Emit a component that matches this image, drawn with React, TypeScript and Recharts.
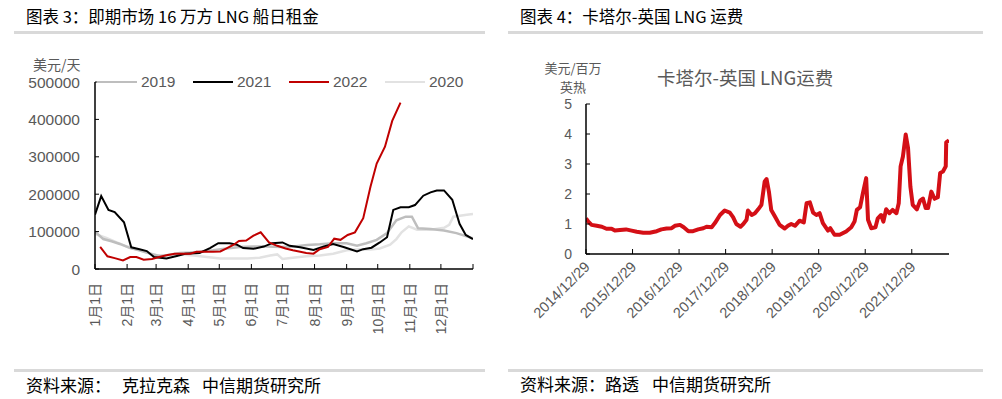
import React from "react";
import { Line, LineChart, XAxis, YAxis } from "recharts";

// 图表3：即期市场16万方LNG船日租金（美元/天），x为一年中的第几天
const days2019 = [0, 8, 16, 24, 34, 43, 53, 63, 72, 82, 92, 101, 114, 127, 140, 153, 166, 179, 192, 205, 217, 230, 243, 253, 262, 272, 282, 291, 300, 306, 312, 324, 337, 349, 365];
const rate2019 = [100000, 80000, 74000, 67000, 56000, 50000, 41000, 34000, 38000, 43000, 44000, 46000, 50000, 55000, 59000, 60000, 60000, 59000, 60000, 64000, 66000, 69000, 69000, 62000, 69000, 78000, 96000, 130000, 140000, 140000, 109000, 107000, 103000, 96000, 82000];

const days2020 = [0, 11, 21, 31, 40, 50, 60, 69, 82, 95, 108, 121, 134, 147, 159, 169, 176, 181, 191, 204, 217, 230, 243, 256, 266, 275, 285, 291, 296, 303, 311, 324, 337, 342, 346, 359, 365];
const rate2020 = [94000, 83000, 71000, 60000, 52000, 44000, 37000, 37000, 39000, 36000, 32000, 28000, 28000, 28000, 30000, 36000, 39000, 27000, 30000, 34000, 36000, 41000, 50000, 53000, 52000, 55000, 65000, 80000, 98000, 114000, 105000, 105000, 110000, 118000, 140000, 145000, 147000];

const days2021 = [0, 6, 13, 19, 28, 35, 43, 50, 57, 69, 79, 87, 101, 111, 119, 130, 137, 143, 153, 163, 171, 181, 188, 198, 211, 221, 230, 240, 253, 259, 267, 275, 282, 288, 295, 303, 309, 317, 324, 330, 337, 345, 352, 358, 365];
const rate2021 = [145000, 195000, 158000, 152000, 125000, 58000, 53000, 48000, 32000, 28000, 35000, 41000, 43000, 56000, 69000, 69000, 65000, 56000, 54000, 60000, 69000, 71000, 62000, 58000, 51000, 60000, 67000, 59000, 47000, 53000, 57000, 71000, 85000, 158000, 165000, 165000, 171000, 196000, 205000, 210000, 210000, 185000, 121000, 91000, 80000];

const days2022 = [5, 12, 19, 27, 34, 40, 47, 55, 62, 69, 77, 85, 92, 98, 106, 114, 121, 127, 134, 139, 146, 153, 160, 168, 176, 184, 191, 197, 204, 211, 217, 225, 231, 237, 244, 251, 259, 266, 272, 280, 287, 295];
const rate2022 = [59000, 34000, 29000, 23000, 32000, 32000, 25000, 27000, 32000, 37000, 41000, 41000, 41000, 46000, 46000, 46000, 47000, 55000, 65000, 75000, 76000, 89000, 98000, 71000, 62000, 55000, 50000, 47000, 43000, 41000, 53000, 59000, 81000, 78000, 91000, 98000, 136000, 220000, 282000, 327000, 396000, 445000];

const monthTicks = [0, 31, 59, 90, 120, 151, 181, 212, 243, 273, 304, 334, 365];
const monthLabels = ["1月1日", "2月1日", "3月1日", "4月1日", "5月1日", "6月1日", "7月1日", "8月1日", "9月1日", "10月1日", "11月1日", "12月1日", ""];
const rateTicks = [0, 100000, 200000, 300000, 400000, 500000];

// 图表4：卡塔尔-英国LNG运费（美元/百万英热），x为年份（小数）
const freightYears = [2014.99, 2015.04, 2015.11, 2015.22, 2015.33, 2015.43, 2015.54, 2015.61, 2015.72, 2015.85, 2015.97, 2016.08, 2016.22, 2016.36, 2016.51, 2016.61, 2016.72, 2016.83, 2016.9, 2017.01, 2017.09, 2017.19, 2017.29, 2017.4, 2017.51, 2017.58, 2017.69, 2017.76, 2017.87, 2017.97, 2018.08, 2018.15, 2018.22, 2018.31, 2018.37, 2018.44, 2018.47, 2018.55, 2018.62, 2018.69, 2018.76, 2018.83, 2018.87, 2018.92, 2018.97, 2019.05, 2019.15, 2019.26, 2019.33, 2019.4, 2019.48, 2019.58, 2019.67, 2019.73, 2019.8, 2019.87, 2019.94, 2020.01, 2020.08, 2020.19, 2020.24, 2020.33, 2020.44, 2020.58, 2020.69, 2020.76, 2020.81, 2020.88, 2020.94, 2021.01, 2021.05, 2021.12, 2021.21, 2021.26, 2021.33, 2021.38, 2021.44, 2021.51, 2021.58, 2021.66, 2021.71, 2021.75, 2021.8, 2021.86, 2021.91, 2021.96, 2022.01, 2022.1, 2022.17, 2022.23, 2022.29, 2022.34, 2022.41, 2022.48, 2022.55, 2022.6, 2022.66, 2022.72, 2022.73, 2022.79];
const freightValues = [1.19, 1.08, 0.97, 0.94, 0.91, 0.84, 0.84, 0.78, 0.8, 0.82, 0.78, 0.74, 0.71, 0.71, 0.76, 0.82, 0.85, 0.86, 0.94, 0.97, 0.89, 0.76, 0.76, 0.82, 0.86, 0.91, 0.89, 1.03, 1.3, 1.45, 1.38, 1.23, 1.0, 0.91, 1.0, 1.14, 1.45, 1.3, 1.36, 1.49, 1.64, 2.42, 2.5, 2.08, 1.47, 1.25, 0.97, 0.85, 0.94, 1.0, 0.94, 1.11, 1.05, 1.69, 1.72, 1.38, 1.3, 1.36, 1.03, 0.78, 0.86, 0.64, 0.64, 0.75, 0.89, 1.08, 1.47, 1.56, 2.03, 2.53, 1.14, 0.86, 0.89, 1.19, 1.3, 1.08, 1.49, 1.36, 1.47, 1.36, 1.69, 2.92, 3.25, 3.98, 3.53, 2.25, 1.64, 1.49, 1.78, 1.85, 1.53, 1.53, 2.08, 1.84, 1.89, 2.7, 2.75, 2.92, 3.72, 3.79];
const yearTicks = [2014.99, 2015.99, 2016.99, 2017.99, 2018.99, 2019.99, 2020.99, 2021.99];
const freightTicks = [0, 1, 2, 3, 4, 5];

const zip = (xs: number[], ys: number[]) => xs.map((x, i) => ({ x, y: ys[i] }));

const series = [
  { name: "2020", color: "#E2E2E2", width: 2.5, data: zip(days2020, rate2020) },
  { name: "2019", color: "#BEBEBE", width: 2.5, data: zip(days2019, rate2019) },
  { name: "2021", color: "#000000", width: 2, data: zip(days2021, rate2021) },
  { name: "2022", color: "#C00000", width: 2, data: zip(days2022, rate2022) },
];
const legendOrder = ["2019", "2021", "2022", "2020"];

const NUM_FONT = "'Liberation Sans', Arial, 'Noto Sans CJK SC', sans-serif";
const CJK_FONT = "'Noto Sans CJK SC', sans-serif";
const TEXT_GRAY = "#595959";

const LeftXTick = (props: any) => {
  const { x, y, payload, index } = props;
  const ay = y - 14;
  return (
    <g>
      <line x1={x} x2={x} y1={ay} y2={ay - 5} stroke="#000" strokeWidth={1} />
      <text
        transform={`translate(${x},${y}) rotate(-90)`}
        textAnchor="end"
        dy="0.36em"
        fontSize={14}
        fill={TEXT_GRAY}
        fontFamily={NUM_FONT}
      >
        {monthLabels[monthTicks.indexOf(payload.value)] ?? monthLabels[index]}
      </text>
    </g>
  );
};

const LeftYTick = (props: any) => {
  const { x, y, payload } = props;
  return (
    <g>
      <line x1={x + 15} x2={x + 19} y1={y} y2={y} stroke="#000" strokeWidth={1} />
      <text x={x} y={y} dy="0.36em" textAnchor="end" fontSize={15.5} fill={TEXT_GRAY} fontFamily={NUM_FONT}>
        {payload.value}
      </text>
    </g>
  );
};

const RightXTick = (props: any) => {
  const { x, y, payload } = props;
  const ay = y - 10;
  return (
    <g>
      <line x1={x} x2={x} y1={ay} y2={ay - 5} stroke="#000" strokeWidth={1} />
      <text
        transform={`translate(${x + 1},${y}) rotate(-45)`}
        textAnchor="end"
        dy="0.36em"
        fontSize={14.5}
        fill={TEXT_GRAY}
        fontFamily={NUM_FONT}
      >
        {`${Math.round(payload.value - 0.99)}/12/29`}
      </text>
    </g>
  );
};

const RightYTick = (props: any) => {
  const { x, y, payload } = props;
  return (
    <g>
      <line x1={x + 14} x2={x + 18} y1={y} y2={y} stroke="#000" strokeWidth={1} />
      <text x={x} y={y} dy="0.36em" textAnchor="end" fontSize={14} fill={TEXT_GRAY} fontFamily={NUM_FONT}>
        {payload.value}
      </text>
    </g>
  );
};

const abs = (left: number, top: number, extra: React.CSSProperties = {}): React.CSSProperties => ({
  position: "absolute",
  left,
  top,
  whiteSpace: "nowrap",
  ...extra,
});

const footStyle: React.CSSProperties = { fontSize: 17, fontFamily: CJK_FONT, color: "#000", lineHeight: "22px" };
const unitStyle: React.CSSProperties = { fontSize: 13, fontFamily: CJK_FONT, color: TEXT_GRAY, lineHeight: "19px", textAlign: "center", width: 70 };

export default function App() {
  return (
    <div style={{ position: "absolute", left: 0, top: 0, width: 1002, height: 399, background: "#fff", overflow: "hidden" }}>
      {/* headers */}
      <div style={abs(26, 5, { fontSize: 16.5, fontFamily: CJK_FONT, color: "#000", lineHeight: "22px" })}>
        图表 3：即期市场 16 万方 LNG 船日租金
      </div>
      <div style={abs(14, 30.5, { width: 471, height: 3, background: "#D9D9D9" })} />
      <div style={abs(520, 5, { fontSize: 16.5, fontFamily: CJK_FONT, color: "#000", lineHeight: "22px" })}>
        图表 4：卡塔尔-英国 LNG 运费
      </div>
      <div style={abs(508, 30.5, { width: 475, height: 3, background: "#D9D9D9" })} />

      {/* footers */}
      <div style={abs(14, 368.5, { width: 471, height: 3, background: "#D9D9D9" })} />
      <div style={abs(26, 374, footStyle)}>
        资料来源：<span style={{ marginLeft: 11 }}>克拉克森</span>
        <span style={{ marginLeft: 12 }}>中信期货研究所</span>
      </div>
      <div style={abs(508, 368.5, { width: 475, height: 3, background: "#D9D9D9" })} />
      <div style={abs(520, 373, footStyle)}>
        资料来源：路透<span style={{ marginLeft: 13 }}>中信期货研究所</span>
      </div>

      {/* left chart */}
      <div style={abs(0, 0)}>
        <LineChart width={500} height={360} margin={{ top: 82, right: 27, bottom: 11, left: 0 }}>
          <XAxis
            dataKey="x"
            type="number"
            domain={[0, 365]}
            ticks={monthTicks}
            interval={0}
            tickSize={0}
            tickMargin={14}
            height={80}
            axisLine={{ stroke: "#000", strokeWidth: 1.5 }}
            tickLine={false}
            tick={<LeftXTick />}
            allowDataOverflow
          />
          <YAxis
            type="number"
            domain={[0, 500000]}
            ticks={rateTicks}
            interval={0}
            width={95}
            tickSize={0}
            tickMargin={15}
            axisLine={{ stroke: "#000", strokeWidth: 1.5 }}
            tickLine={false}
            tick={<LeftYTick />}
          />
          {series.map((s) => (
            <Line
              key={s.name}
              data={s.data}
              dataKey="y"
              name={s.name}
              type="linear"
              stroke={s.color}
              strokeWidth={s.width}
              dot={false}
              activeDot={false}
              isAnimationActive={false}
            />
          ))}
        </LineChart>
      </div>
      <div style={abs(33, 54, { fontSize: 14, fontFamily: CJK_FONT, color: TEXT_GRAY, lineHeight: "20px" })}>美元/天</div>
      <div style={abs(97, 72, { display: "flex", fontFamily: NUM_FONT, fontSize: 15.5, color: TEXT_GRAY, lineHeight: "20px" })}>
        {legendOrder.map((name) => {
          const s = series.find((d) => d.name === name)!;
          return (
            <div key={name} style={{ width: 96, display: "flex", alignItems: "center" }}>
              <span style={{ display: "inline-block", width: 40, height: s.width, background: s.color, marginRight: 4 }} />
              <span>{name}</span>
            </div>
          );
        })}
      </div>

      {/* right chart */}
      <div style={abs(500, 0)}>
        <LineChart width={500} height={360} margin={{ top: 104, right: 51, bottom: 10, left: 0 }}>
          <XAxis
            dataKey="x"
            type="number"
            domain={[2014.99, 2022.79]}
            ticks={yearTicks}
            interval={0}
            tickSize={0}
            tickMargin={10}
            height={96}
            axisLine={{ stroke: "#000", strokeWidth: 1.5 }}
            tickLine={false}
            tick={<RightXTick />}
            allowDataOverflow
          />
          <YAxis
            type="number"
            domain={[0, 5]}
            ticks={freightTicks}
            interval={0}
            width={86}
            tickSize={0}
            tickMargin={14}
            axisLine={{ stroke: "#000", strokeWidth: 1.5 }}
            tickLine={false}
            tick={<RightYTick />}
          />
          <Line
            data={zip(freightYears, freightValues)}
            dataKey="y"
            type="linear"
            stroke="#D40F16"
            strokeWidth={4}
            strokeLinejoin="round"
            dot={false}
            activeDot={false}
            isAnimationActive={false}
          />
        </LineChart>
      </div>
      <div style={abs(538, 58, unitStyle)}>美元/百万</div>
      <div style={abs(538, 77, unitStyle)}>英热</div>
      <div style={abs(657, 65, { fontSize: 18.5, fontFamily: CJK_FONT, color: TEXT_GRAY, lineHeight: "24px" })}>
        卡塔尔-英国 LNG运费
      </div>
    </div>
  );
}
